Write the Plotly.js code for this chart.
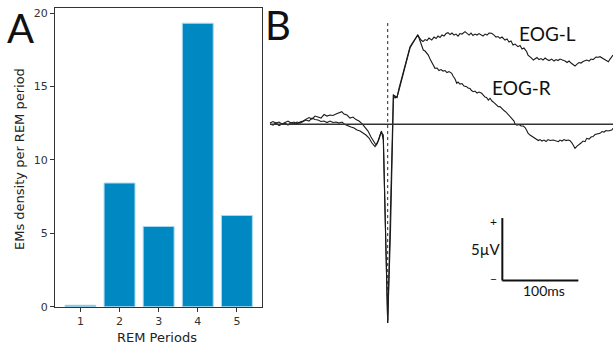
<!DOCTYPE html>
<html><head><meta charset="utf-8">
<script src="https://cdn.plot.ly/plotly-3.0.1.min.js"></script>
<style>html,body{margin:0;padding:0;background:#fff}#chart{width:613px;height:345px}</style>
</head><body><div id="chart"></div>
<script>
// Panel A: EMs density per REM period
const remPeriods = [1, 2, 3, 4, 5];
const emDensity = [0.1, 8.42, 5.46, 19.3, 6.21];
const yTicks = [0, 5, 10, 15, 20];

// Panel B: averaged EOG traces (time in ms relative to onset, amplitude in µV)
const eogL_t = [-154.9,-150.9,-147.0,-143.0,-139.1,-135.1,-131.2,-127.2,-123.3,-119.3,-115.4,-111.4,-107.5,-103.6,-99.6,-95.7,-91.7,-87.8,-83.8,-79.9,-75.9,-72.0,-68.0,-64.1,-60.5,-57.5,-53.6,-49.6,-45.7,-41.7,-37.8,-33.8,-29.9,-25.9,-22.0,-18.0,-15.4,-12.8,-10.1,-8.2,-5.8,-3.6,0,3.0,5.0,6.3,7.4,9.6,12.2,14.9,18.4,20.1,22.8,24.7,27.1,29.3,31.6,33.3,35.9,39.5,
 41.2,43.8,46.4,49.1,51.7,54.3,57.9,60.9,63.6,66.2,68.8,71.4,74.1,76.7,79.3,82.0,84.6,87.2,89.9,92.5,95.1,97.8,101.7,104.3,107.0,109.6,112.2,114.9,117.5,120.1,122.8,125.4,128.0,130.7,133.3,136.8,139.9,142.5,145.1,147.8,150.4,154.3,157.0,159.6,162.2,164.9,167.5,171.4,174.1,176.7,179.3,182.9,184.6,187.2,189.2,191.6,193.8,196.4,199.1,201.7,204.3,207.0,209.2,212.2,215.8,218.8,221.4,224.1,226.7,231.1,233.3,235.9,238.6,241.2,243.8,246.4,249.1,251.7,254.3,257.0,261.8,264.9,267.5,270.1,274.1,277.1,279.3,282.0,284.6,287.2,290.3,292.5,296.4];
const eogL_v = [0.10,0.22,0.10,0.18,0.02,0.14,0.26,0.10,0.18,0.02,0.18,0.26,0.42,0.54,0.42,0.66,0.58,0.50,0.78,0.66,0.74,0.70,0.82,0.94,1.01,0.82,0.74,0.50,0.58,0.38,0.26,0.06,-0.22,-0.54,-1.02,-1.42,-1.66,-1.34,-0.86,-0.54,-1.26,-6.06,-15.9,-8.46,-2.86,-0.06,2.34,2.26,2.14,2.90,3.70,4.02,4.58,5.14,5.78,6.18,6.42,6.58,6.90,7.14,
 6.98,6.74,6.62,6.78,6.70,6.90,6.74,6.98,6.86,7.06,6.94,7.14,7.06,7.26,7.33,7.18,7.30,7.14,7.22,7.06,7.26,7.22,7.41,7.26,7.14,7.30,7.10,7.22,7.14,7.26,7.18,7.06,7.22,7.14,7.30,7.28,7.14,6.98,7.02,6.88,6.98,6.74,6.82,6.58,6.66,6.34,6.42,6.21,6.30,6.02,6.10,5.81,5.54,5.42,5.30,5.14,5.22,5.34,5.18,5.26,5.14,5.30,5.20,5.10,5.22,5.06,5.18,5.10,5.22,5.14,5.06,4.94,5.06,4.90,4.78,4.66,4.82,4.94,4.90,5.02,5.14,5.06,5.22,5.18,5.38,5.36,5.41,5.30,5.22,5.10,5.01,5.22,5.54];

const eogR_t = [-154.9,-150.9,-147.0,-143.0,-139.1,-135.1,-131.2,-127.2,-123.3,-119.3,-115.4,-111.4,-107.5,-103.6,-99.6,-95.7,-91.7,-87.8,-83.8,-79.9,-75.9,-72.0,-68.0,-64.1,-60.1,-56.2,-52.2,-48.3,-44.3,-40.4,-36.4,-32.5,-28.6,-24.6,-20.7,-16.7,-14.1,-11.4,-8.8,-5.8,-2.9,0,3.7,6.3,7.6,9.6,12.2,14.9,18.4,20.1,22.8,24.7,27.1,29.3,31.6,33.3,35.9,39.5,
 41.2,43.8,46.8,49.1,51.1,53.4,55.7,57.6,60.0,62.2,64.9,67.5,70.1,72.8,75.4,78.0,80.7,84.2,85.9,88.6,90.8,92.5,95.1,97.8,100.4,103.9,105.7,108.3,110.3,112.6,114.9,117.5,120.1,123.7,125.8,128.0,130.0,132.4,134.6,137.2,139.9,142.5,145.5,147.8,150.4,153.0,155.7,158.3,160.9,163.6,166.2,167.5,170.1,172.8,175.4,178.4,180.7,182.6,184.6,187.2,189.9,192.5,196.1,198.2,200.4,203.0,205.7,208.3,210.9,213.6,217.9,221.4,224.5,226.7,229.3,232.0,234.6,237.6,239.9,242.5,244.5,246.4,249.1,251.7,254.3,257.0,259.6,261.8,264.9,267.5,270.1,272.8,277.1,279.3,282.0,284.6,287.2,289.9,294.7,296.4];
const eogR_v = [0.02,-0.06,0.10,-0.10,0.02,0.10,-0.06,0.14,0.02,0.18,0.10,0.22,0.34,0.26,0.50,0.38,0.34,0.22,0.26,0.14,0.26,0.14,0.18,0.10,0.18,-0.02,-0.14,-0.22,-0.30,-0.46,-0.54,-0.70,-0.86,-1.10,-1.50,-1.78,-1.58,-1.18,-0.62,-0.86,-8.46,-15.9,-8.46,-0.30,2.34,2.10,2.18,2.74,3.54,3.94,4.50,4.98,5.70,6.10,6.34,6.50,6.82,7.14,
 6.90,6.50,5.94,5.86,5.70,5.54,5.22,4.98,4.74,4.48,4.50,4.30,4.38,4.26,4.30,4.14,4.22,4.08,3.86,3.62,3.28,3.38,3.22,3.26,3.06,3.01,2.90,2.86,2.70,2.61,2.66,2.50,2.58,2.48,2.34,2.18,2.14,1.94,2.08,1.86,1.74,1.62,1.41,1.42,1.22,1.10,0.98,0.82,0.61,0.50,0.26,0.02,-0.06,-0.02,-0.14,-0.14,-0.26,-0.46,-0.70,-0.86,-0.98,-1.10,-1.26,-1.30,-1.22,-1.34,-1.26,-1.38,-1.22,-1.30,-1.26,-1.34,-1.39,-1.26,-1.34,-1.22,-1.30,-1.26,-1.31,-1.50,-1.74,-1.92,-1.74,-1.58,-1.50,-1.34,-1.39,-1.12,-1.18,-1.02,-0.98,-0.82,-0.72,-0.72,-0.58,-0.62,-0.50,-0.54,-0.46,-0.32];

// Scale bar: 100 ms, 5 µV
const scaleT0 = 150.8, scaleMs = 100, scaleV0 = -12.5, scaleUv = 5;
const onsetTop = 8.1, onsetBottom = -15.9;
const tStart = -154.9, tEnd = 296.4;

const W = 613, H = 345;
const px = x => x / W, py = y => 1 - y / H;
const tickFont = {family: 'DejaVu Sans', size: 11, color: '#333'};
const titleFont = {family: 'DejaVu Sans', size: 13, color: '#222'};
const labFont = {family: 'Lato', color: '#111'};

const data = [
  {type: 'bar', x: remPeriods, y: emDensity, width: 0.79, xaxis: 'x', yaxis: 'y',
   marker: {color: '#0088c2', line: {color: '#a8d8ee', width: 1}}, hoverinfo: 'skip'},
  {type: 'scatter', mode: 'lines', x: eogL_t, y: eogL_v, xaxis: 'x2', yaxis: 'y2',
   line: {color: '#1a1a1a', width: 1.1}, hoverinfo: 'skip'},
  {type: 'scatter', mode: 'lines', x: eogR_t, y: eogR_v, xaxis: 'x2', yaxis: 'y2',
   line: {color: '#1a1a1a', width: 1.1}, hoverinfo: 'skip'}
];

const layout = {
  width: W, height: H, margin: {l: 0, r: 0, t: 0, b: 0},
  paper_bgcolor: '#fff', plot_bgcolor: 'rgba(0,0,0,0)', showlegend: false,
  xaxis: {domain: [px(55), px(262.3)], range: [0.35, 5.65], anchor: 'y',
    tickvals: remPeriods, ticktext: remPeriods.map(String), ticks: 'outside', ticklen: 4,
    tickcolor: '#333', tickfont: tickFont, showline: true, mirror: true, linecolor: '#333',
    linewidth: 1, showgrid: false, zeroline: false, fixedrange: true},
  yaxis: {domain: [py(306.7), py(8.3)], range: [0, 20.32], anchor: 'x',
    tickvals: yTicks, ticks: 'outside', ticklen: 4, tickcolor: '#333', tickfont: tickFont,
    showline: true, mirror: true, linecolor: '#333', linewidth: 1, showgrid: false,
    zeroline: false, fixedrange: true},
  xaxis2: {domain: [px(268), 1], range: [-157.5, 296.4], anchor: 'y2', visible: false},
  yaxis2: {domain: [0, 1], range: [-17.656, 9.944], anchor: 'x2', visible: false},
  shapes: [
    {type: 'line', xref: 'x2', yref: 'y2', x0: tStart, x1: tEnd, y0: 0, y1: 0,
     line: {color: '#333', width: 1.6}},
    {type: 'line', xref: 'x2', yref: 'y2', x0: 0, x1: 0, y0: onsetTop, y1: onsetBottom,
     line: {color: '#222', width: 1, dash: '3px,3px'}},
    {type: 'line', xref: 'x2', yref: 'y2', x0: scaleT0, x1: scaleT0 + scaleMs, y0: scaleV0, y1: scaleV0,
     line: {color: '#111', width: 2}},
    {type: 'line', xref: 'x2', yref: 'y2', x0: scaleT0, x1: scaleT0, y0: scaleV0, y1: scaleV0 + scaleUv,
     line: {color: '#111', width: 2}}
  ],
  annotations: [
    {text: 'EMs density per REM period', xref: 'paper', yref: 'paper', x: px(19), y: py(159),
     textangle: -90, showarrow: false, font: titleFont, xanchor: 'center', yanchor: 'middle'},
    {text: 'REM Periods', xref: 'paper', yref: 'paper', x: px(157), y: py(337),
     showarrow: false, font: titleFont, xanchor: 'center', yanchor: 'middle'},
    {text: 'A', xref: 'paper', yref: 'paper', x: px(20), y: py(28), showarrow: false,
     font: Object.assign({size: 40}, labFont), xanchor: 'center', yanchor: 'middle'},
    {text: 'B', xref: 'paper', yref: 'paper', x: px(278), y: py(25), showarrow: false,
     font: Object.assign({size: 40}, labFont), xanchor: 'center', yanchor: 'middle'},
    {text: 'EOG-L', xref: 'paper', yref: 'paper', x: px(547.5), y: py(34), showarrow: false,
     font: Object.assign({size: 19}, labFont), xanchor: 'center', yanchor: 'middle'},
    {text: 'EOG-R', xref: 'paper', yref: 'paper', x: px(521.7), y: py(87.5), showarrow: false,
     font: Object.assign({size: 19}, labFont), xanchor: 'center', yanchor: 'middle'},
    {text: '5µV', xref: 'paper', yref: 'paper', x: px(485.3), y: py(249), showarrow: false,
     font: Object.assign({size: 15}, labFont), xanchor: 'center', yanchor: 'middle'},
    {text: '100ms', xref: 'paper', yref: 'paper', x: px(544), y: py(290), showarrow: false,
     font: Object.assign({size: 14}, labFont), xanchor: 'center', yanchor: 'middle'},
    {text: '+', xref: 'paper', yref: 'paper', x: px(493.3), y: py(221), showarrow: false,
     font: Object.assign({size: 12}, labFont), xanchor: 'center', yanchor: 'middle'},
    {text: '−', xref: 'paper', yref: 'paper', x: px(493.3), y: py(278.5), showarrow: false,
     font: Object.assign({size: 12}, labFont), xanchor: 'center', yanchor: 'middle'}
  ]
};

Plotly.newPlot('chart', data, layout, {staticPlot: true, displayModeBar: false});
</script></body></html>
